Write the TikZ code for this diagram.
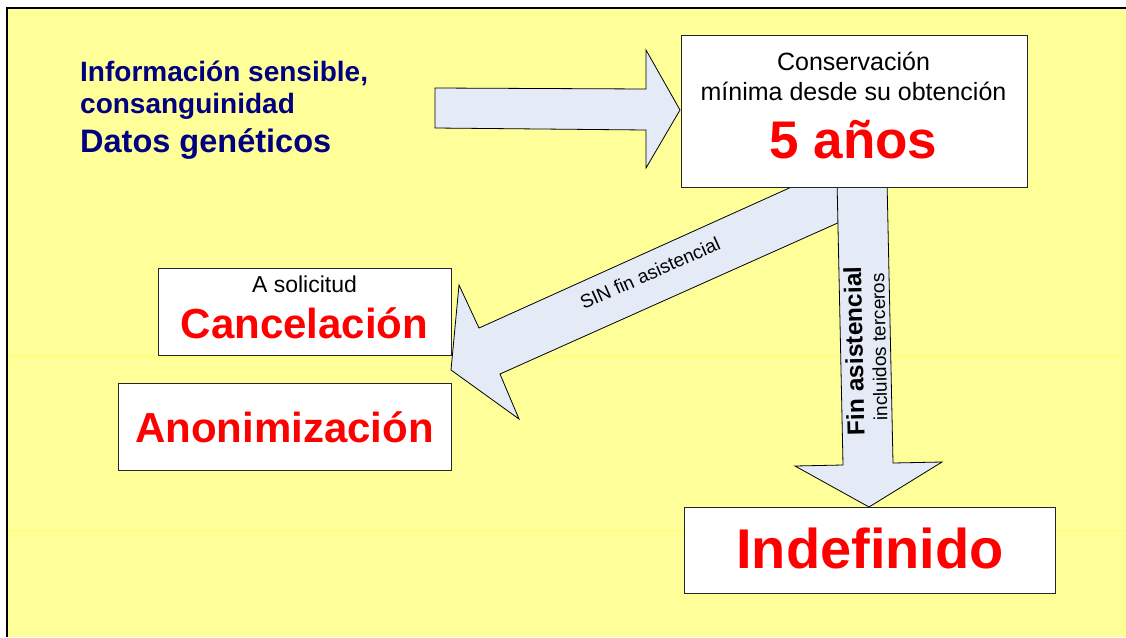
\documentclass[tikz,border=0pt]{standalone}
\usepackage{fontspec}
\setmainfont{Liberation Sans}
\definecolor{bgyellow}{HTML}{FFFF99}
\definecolor{lineyellow}{HTML}{FFFF66}
\definecolor{arrowfill}{HTML}{E4EBF7}
\definecolor{navy}{HTML}{000080}
\definecolor{redtxt}{HTML}{FF0000}
\tikzset{
  fs/.style={font=\fontsize{#1}{#1}\selectfont},
  bfs/.style={font=\bfseries\fontsize{#1}{#1}\selectfont},
  whitebox/.style={draw=black!85, line width=1pt, fill=white, rectangle, inner sep=0pt},
  fatarrow/.style={draw=black, line width=0.8pt, fill=arrowfill, line join=miter},
}
\begin{document}
\begin{tikzpicture}[x=1pt,y=-1pt]
\useasboundingbox (0,0) rectangle (1126,637);
% background
\fill[bgyellow] (7,8) rectangle (1126,637);
\draw[lineyellow, line width=1pt] (7,356) -- (1126,356);
\draw[lineyellow, line width=1pt] (7,530) -- (1126,530);
\draw[black, line width=1.3pt] (7,637) -- (7,8) -- (1126,8);

% left text
\node[anchor=base west, inner sep=0pt, text=navy, bfs=28] (t1) at (80,81) {Información sensible,};
\node[anchor=base west, inner sep=0pt, text=navy, bfs=28] (t2) at (80,113) {consanguinidad};
\node[anchor=base west, inner sep=0pt, text=navy, bfs=32.5] (t3) at (80,152) {Datos genéticos};

% right arrow
\draw[fatarrow] (435,88) -- (646,89) -- (646,50) -- (680,110) -- (646,168) -- (646,130) -- (435,128) -- cycle;

% diagonal arrow
\draw[fatarrow] (807,180) -- (479,328) -- (459,285) -- (451,370) -- (519,419) -- (500,374) -- (860,213) -- (860,180) -- cycle;
\node[fs=19, rotate=24, inner sep=0pt] (sin) at (650,273) {SIN fin asistencial};

% down arrow
\draw[fatarrow] (837,180) -- (843,465) -- (795,466) -- (869,507) -- (942,462) -- (893,463) -- (887,180) -- cycle;
\node[bfs=24.5, rotate=91.2, inner sep=0pt] (fin) at (854,351) {Fin asistencial};
\node[fs=19, rotate=91.2, inner sep=0pt] (incl) at (879,347) {incluidos terceros};

% boxes
\node[whitebox, minimum width=346pt, minimum height=152pt] (cons) at (854,111) {};
\node[anchor=base, inner sep=0pt, fs=25] (c1) at (853.5,70) {Conservación};
\node[anchor=base, inner sep=0pt, fs=25] (c2) at (853.5,100) {mínima desde su obtención};
\node[anchor=base, inner sep=0pt, bfs=53, text=redtxt] (c3) at (853.5,158) {5 años};

\node[whitebox, minimum width=293pt, minimum height=87pt] (canc) at (304.5,311.5) {};
\node[anchor=base, inner sep=0pt, fs=23] (a1) at (304.5,292) {A solicitud};
\node[anchor=base, inner sep=0pt, bfs=42, text=redtxt] (a2) at (304.5,338) {Cancelación};

\node[whitebox, minimum width=333pt, minimum height=87pt] (anon) at (284.5,426.5) {};
\node[anchor=base, inner sep=0pt, bfs=42, text=redtxt] (an1) at (284.5,442) {Anonimización};

\node[whitebox, minimum width=371pt, minimum height=86pt] (indef) at (869.5,550) {};
\node[anchor=base, inner sep=0pt, bfs=56, text=redtxt] (in1) at (870,568) {Indefinido};
\end{tikzpicture}
\end{document}
